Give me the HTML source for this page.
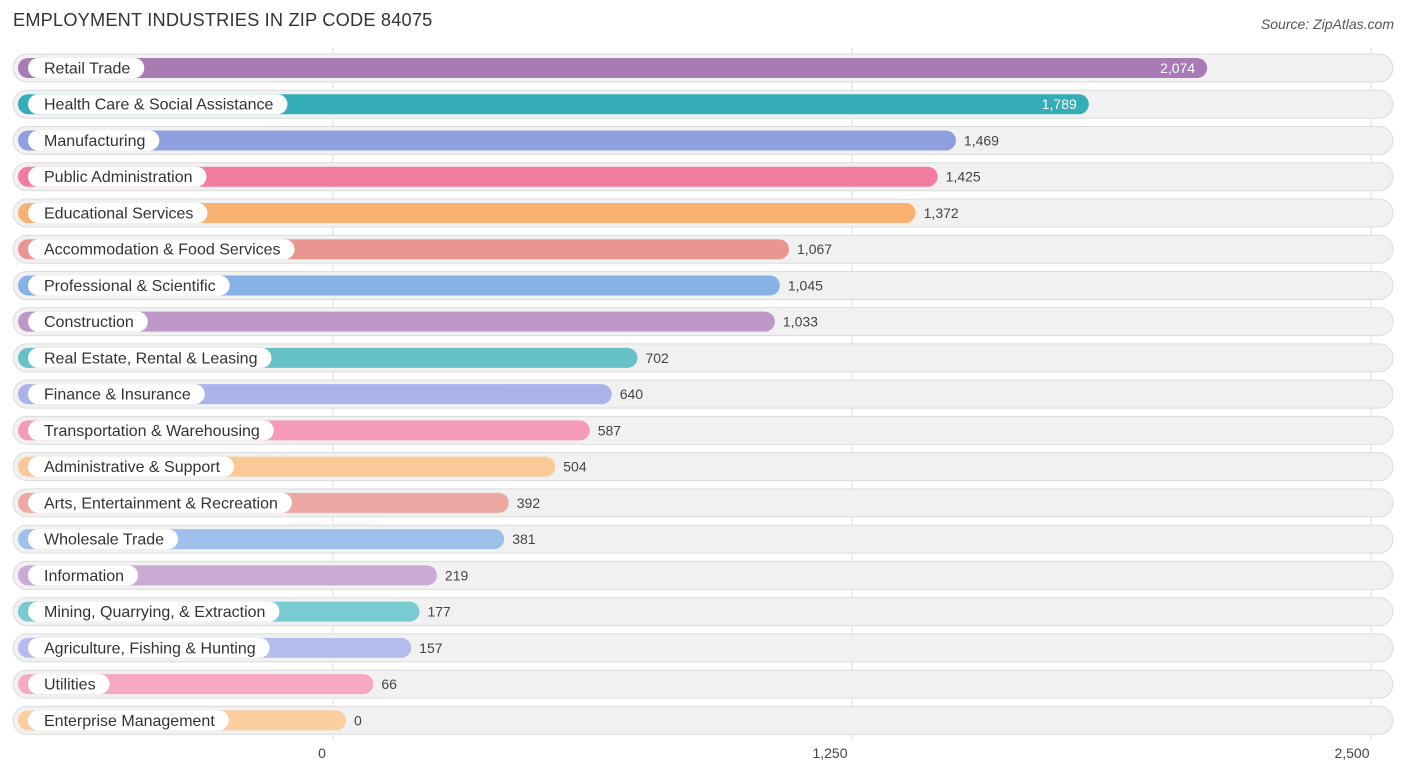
<!DOCTYPE html>
<html><head><meta charset="utf-8"><style>
body{margin:0;background:#fff;font-family:"Liberation Sans",sans-serif;}
#wrap{position:relative;width:1406px;height:776px;overflow:hidden}
.title{position:absolute;left:13px;top:10px;font-size:18.2px;color:#333;letter-spacing:0.2px}
.src{position:absolute;right:12px;top:16px;font-size:14px;color:#555;font-style:italic}
</style></head><body><div id="wrap">
<div class="title">EMPLOYMENT INDUSTRIES IN ZIP CODE 84075</div>
<div class="src">Source: ZipAtlas.com</div>
<svg id="svg" width="1406" height="776" style="position:absolute;left:0;top:0"></svg>
</div>
<script>
const categories=["Retail Trade","Health Care & Social Assistance","Manufacturing","Public Administration","Educational Services","Accommodation & Food Services","Professional & Scientific","Construction","Real Estate, Rental & Leasing","Finance & Insurance","Transportation & Warehousing","Administrative & Support","Arts, Entertainment & Recreation","Wholesale Trade","Information","Mining, Quarrying, & Extraction","Agriculture, Fishing & Hunting","Utilities","Enterprise Management"];
const values=[2074,1789,1469,1425,1372,1067,1045,1033,702,640,587,504,392,381,219,177,157,66,0];
const colors=["#a97bb5","#35adb9","#8f9fe0","#f27ba0","#f9b172","#ea9690","#86b2e6","#be98c8","#67c1c9","#a9b3ea","#f59ab9","#fbc897","#eea8a3","#9fc0ea","#cbaad3","#79cbd2","#b5bdee","#f7a8c4","#fbcd9f"];
const tickValues=[0,1250,2500];
const tickLabels=["0","1,250","2,500"];
const NS="http://www.w3.org/2000/svg";
const svg=document.getElementById('svg');
const x0=333,scale=(1371-333)/2500;
function xs(v){return x0+v*scale;}
function yc(i){return 68+i*36.24;}
function mk(t,a){const e=document.createElementNS(NS,t);for(const k in a)e.setAttribute(k,a[k]);svg.appendChild(e);return e;}
tickValues.forEach((t,i)=>{
 const g=mk('line',{x1:xs(t),x2:xs(t),y1:48,y2:740,stroke:'#ddd','stroke-width':1});
 
 
 const tl=mk('text',{x:xs(t)-(i==2?19:(i==1?22:11)),y:758,'font-size':14,fill:'#444','text-anchor':'middle'});
 tl.textContent=tickLabels[i];
 
 
});
categories.forEach((c,i)=>{
 const y=yc(i);
 const bg=mk('rect',{x:13,y:y-14,width:1380,height:28,rx:14,fill:'#f1f1f1',stroke:'#dcdcdc'});
 
 
 const end=xs(values[i])+13;
 const b=mk('rect',{x:18,y:y-10,width:end-18,height:20,rx:10,fill:colors[i]});
 
 
 const p=mk('rect',{x:28,y:y-10,width:100,height:20,rx:10,fill:'#fff'});
 
 
 const t=mk('text',{x:44,y:y+5.5,'font-size':16,fill:'#333'});
 t.textContent=c;
 
 
 p.setAttribute('width',t.getComputedTextLength()+30);
 const inside=i<2;
 const v=mk('text',{x:inside?end-12:end+8,y:y+5,'font-size':14,fill:inside?'#fff':'#444','text-anchor':inside?'end':'start'});
 v.textContent=values[i].toLocaleString('en-US');
 
 
});
</script></body></html>
